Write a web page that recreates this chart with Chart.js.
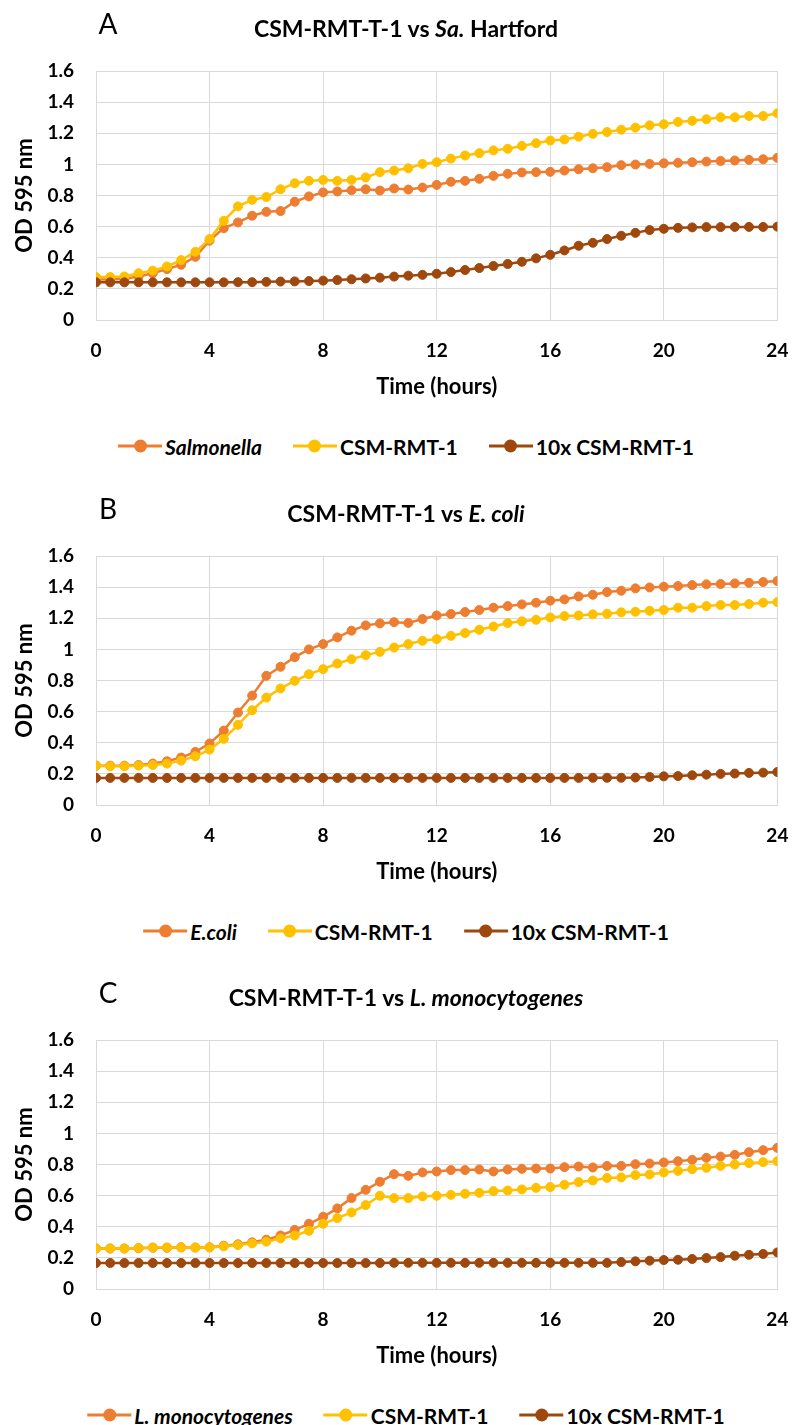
<!DOCTYPE html>
<html>
<head>
<meta charset="utf-8">
<script src="https://cdn.jsdelivr.net/npm/chart.js@4.4.1/dist/chart.umd.min.js"></script>
<style>
  html, body { margin: 0; padding: 0; background: #fff; }
  #page { position: relative; width: 808px; height: 1425px; overflow: hidden; font-family: Lato, "Open Sans", sans-serif; color: #000; }
  .panel { position: absolute; left: 0; width: 808px; height: 480px; }
  .panel canvas { position: absolute; left: 0; top: 0; }
  .letter { position: absolute; left: 108px; top: 23px; transform: translate(-50%, -50%); font-size: 28px; line-height: 1; }
  .title { position: absolute; left: 406px; top: 28px; transform: translate(-50%, -50%); font-size: 23px; font-weight: bold; line-height: 1; white-space: nowrap; }
  .legend { position: absolute; left: 406px; top: 446px; transform: translate(-50%, -50%); display: flex; align-items: center; gap: 31px; white-space: nowrap; font-size: 21px; font-weight: bold; line-height: 1; }
  .item { display: flex; align-items: center; gap: 3px; }
  .swatch { position: relative; width: 44px; height: 14px; }
  .swatch .ln { position: absolute; left: 0; right: 0; top: 5.5px; height: 3px; }
  .swatch .dot { position: absolute; left: 15.5px; top: 0.5px; width: 13px; height: 13px; border-radius: 50%; }
  i { font-style: italic; }
</style>
</head>
<body>
<div id="page"></div>
<script>
// sampling times (hours), one reading every 30 min
const hours = [0, 0.5, 1, 1.5, 2, 2.5, 3, 3.5, 4, 4.5, 5, 5.5, 6, 6.5, 7, 7.5, 8,
  8.5, 9, 9.5, 10, 10.5, 11, 11.5, 12, 12.5, 13, 13.5, 14, 14.5, 15, 15.5, 16,
  16.5, 17, 17.5, 18, 18.5, 19, 19.5, 20, 20.5, 21, 21.5, 22, 22.5, 23, 23.5, 24];

const xTicks = [0, 4, 8, 12, 16, 20, 24];
const yTicks = [0, 0.2, 0.4, 0.6, 0.8, 1, 1.2, 1.4, 1.6];

const seriesNames = ['CSM-RMT-1', '10x CSM-RMT-1'];

// A: Salmonella Hartford
const salmonella = [0.26, 0.26, 0.265, 0.28, 0.30, 0.327, 0.355, 0.406, 0.51,
  0.59, 0.627, 0.67, 0.695, 0.70, 0.76, 0.794, 0.82,
  0.826, 0.834, 0.84, 0.832, 0.845, 0.838, 0.851, 0.868,
  0.888, 0.894, 0.907, 0.926, 0.939, 0.948, 0.95, 0.952,
  0.96, 0.969, 0.975, 0.982, 0.995, 0.999, 1.003, 1.007,
  1.01, 1.014, 1.018, 1.022, 1.025, 1.029, 1.033, 1.042];
const salCsm = [0.276, 0.276, 0.28, 0.30, 0.317, 0.344, 0.385, 0.438, 0.52,
  0.637, 0.73, 0.772, 0.79, 0.84, 0.879, 0.894, 0.90,
  0.894, 0.90, 0.916, 0.95, 0.96, 0.975, 1.003, 1.014,
  1.037, 1.057, 1.072, 1.09, 1.10, 1.119, 1.136, 1.153,
  1.16, 1.178, 1.196, 1.208, 1.223, 1.236, 1.251, 1.258,
  1.273, 1.28, 1.29, 1.303, 1.303, 1.311, 1.311, 1.328];
const salCsm10 = [0.242, 0.242, 0.242, 0.242, 0.242, 0.242, 0.242, 0.242, 0.242,
  0.242, 0.243, 0.243, 0.245, 0.247, 0.248, 0.25, 0.253,
  0.257, 0.262, 0.267, 0.272, 0.279, 0.285, 0.29, 0.297,
  0.308, 0.321, 0.334, 0.347, 0.36, 0.374, 0.396, 0.419,
  0.447, 0.477, 0.496, 0.52, 0.541, 0.56, 0.578, 0.586,
  0.592, 0.595, 0.597, 0.597, 0.598, 0.598, 0.598, 0.60];

// B: E. coli
const ecoli = [0.253, 0.253, 0.253, 0.257, 0.266, 0.281, 0.305, 0.341, 0.395,
  0.478, 0.594, 0.703, 0.83, 0.888, 0.95, 1.0, 1.034,
  1.077, 1.12, 1.154, 1.167, 1.175, 1.17, 1.195, 1.218,
  1.227, 1.24, 1.253, 1.268, 1.278, 1.289, 1.30, 1.313,
  1.321, 1.34, 1.351, 1.368, 1.377, 1.392, 1.398, 1.403,
  1.407, 1.413, 1.418, 1.42, 1.424, 1.428, 1.433, 1.439];
const ecoCsm = [0.253, 0.249, 0.249, 0.253, 0.257, 0.266, 0.285, 0.313, 0.356,
  0.425, 0.515, 0.609, 0.69, 0.749, 0.798, 0.84, 0.873,
  0.909, 0.937, 0.963, 0.984, 1.012, 1.034, 1.055, 1.066,
  1.087, 1.105, 1.126, 1.147, 1.169, 1.18, 1.19, 1.205,
  1.214, 1.218, 1.225, 1.229, 1.238, 1.242, 1.248, 1.253,
  1.268, 1.268, 1.278, 1.285, 1.285, 1.291, 1.30, 1.304];
const ecoCsm10 = [0.174, 0.174, 0.174, 0.174, 0.174, 0.174, 0.174, 0.174, 0.174,
  0.174, 0.174, 0.174, 0.174, 0.174, 0.174, 0.174, 0.174,
  0.174, 0.174, 0.174, 0.174, 0.174, 0.174, 0.174, 0.174,
  0.174, 0.174, 0.174, 0.174, 0.174, 0.174, 0.174, 0.174,
  0.174, 0.174, 0.175, 0.175, 0.175, 0.176, 0.18, 0.184,
  0.186, 0.191, 0.195, 0.20, 0.202, 0.206, 0.208, 0.212];

// C: L. monocytogenes
const listeria = [0.26, 0.26, 0.26, 0.262, 0.265, 0.265, 0.268, 0.266, 0.268,
  0.278, 0.287, 0.30, 0.317, 0.344, 0.38, 0.419, 0.464,
  0.518, 0.584, 0.637, 0.689, 0.738, 0.727, 0.749, 0.755,
  0.764, 0.764, 0.768, 0.755, 0.768, 0.772, 0.774, 0.774,
  0.783, 0.787, 0.781, 0.791, 0.791, 0.802, 0.806, 0.813,
  0.821, 0.83, 0.843, 0.851, 0.862, 0.879, 0.892, 0.907];
const lisCsm = [0.261, 0.261, 0.261, 0.264, 0.267, 0.267, 0.267, 0.267, 0.267,
  0.274, 0.282, 0.293, 0.304, 0.325, 0.344, 0.374, 0.419,
  0.456, 0.492, 0.539, 0.599, 0.584, 0.584, 0.595, 0.599,
  0.605, 0.612, 0.618, 0.629, 0.633, 0.64, 0.65, 0.655,
  0.67, 0.687, 0.697, 0.714, 0.717, 0.732, 0.736, 0.749,
  0.759, 0.77, 0.779, 0.791, 0.80, 0.809, 0.815, 0.821];
const lisCsm10 = [0.167, 0.167, 0.167, 0.167, 0.167, 0.167, 0.167, 0.167, 0.167,
  0.167, 0.167, 0.167, 0.167, 0.167, 0.167, 0.167, 0.167,
  0.167, 0.167, 0.167, 0.167, 0.168, 0.168, 0.168, 0.168,
  0.168, 0.168, 0.168, 0.168, 0.168, 0.168, 0.168, 0.168,
  0.168, 0.168, 0.168, 0.168, 0.173, 0.178, 0.182, 0.186,
  0.188, 0.193, 0.199, 0.205, 0.214, 0.22, 0.225, 0.235];

const colors = ['#ED7D31', '#FFC000', '#9E480E'];
const gridColor = '#d9d9d9';
const font = 'Lato';

const panels = [
  { top: 0,   letter: 'A', title: 'CSM-RMT-T-1 vs <i>Sa.</i> Hartford', organism: '<i>Salmonella</i>', series: [salmonella, salCsm, salCsm10] },
  { top: 485, letter: 'B', title: 'CSM-RMT-T-1 vs <i>E. coli</i>', organism: '<i>E.coli</i>', series: [ecoli, ecoCsm, ecoCsm10] },
  { top: 969, letter: 'C', title: 'CSM-RMT-T-1 vs <i>L. monocytogenes</i>', organism: '<i>L. monocytogenes</i>', series: [listeria, lisCsm, lisCsm10] },
];

const page = document.getElementById('page');

function legendItem(color, label) {
  return '<span class="item"><span class="swatch"><span class="ln" style="background:' + color + '"></span>' +
    '<span class="dot" style="background:' + color + '"></span></span><span>' + label + '</span></span>';
}

function buildPanel(p) {
  const div = document.createElement('div');
  div.className = 'panel';
  div.style.top = p.top + 'px';
  const labels = [p.organism].concat(seriesNames);
  div.innerHTML =
    '<canvas width="808" height="410"></canvas>' +
    '<div class="letter">' + p.letter + '</div>' +
    '<div class="title">' + p.title + '</div>' +
    '<div class="legend">' + labels.map((l, i) => legendItem(colors[i], l)).join('') + '</div>';
  page.appendChild(div);

  const datasets = p.series.map((vals, i) => ({
    label: labels[i].replace(/<[^>]+>/g, ''),
    data: vals.map((v, k) => ({ x: hours[k], y: v })),
    borderColor: colors[i],
    backgroundColor: colors[i],
    pointBackgroundColor: colors[i],
    pointBorderColor: colors[i],
    borderWidth: 2.5,
    pointRadius: 4.5,
    pointBorderWidth: 1,
    tension: 0,
    order: 2 - i, // later series sit on top
  }));

  new Chart(div.querySelector('canvas'), {
    type: 'line',
    data: { datasets },
    options: {
      responsive: false,
      animation: false,
      devicePixelRatio: 1,
      layout: { padding: { top: 71, right: 14, bottom: 0, left: 0 } },
      plugins: { legend: { display: false }, tooltip: { enabled: false } },
      scales: {
        x: {
          type: 'linear',
          min: 0, max: 24,
          afterFit: (s) => { s.height = 90; },
          afterBuildTicks: (s) => { s.ticks = xTicks.map(v => ({ value: v })); },
          grid: { color: gridColor, drawTicks: false },
          border: { color: gridColor },
          ticks: { padding: 19.6, maxRotation: 0, color: '#000', font: { family: font, size: 19, weight: 'bold' } },
          title: { display: true, text: 'Time (hours)', color: '#000', padding: { top: 0, bottom: 9.8 },
                   font: { family: font, size: 22, weight: 'bold' } },
        },
        y: {
          min: 0, max: 1.6,
          afterFit: (s) => { s.width = 96; },
          afterBuildTicks: (s) => { s.ticks = yTicks.map(v => ({ value: v })); },
          grid: { color: gridColor, drawTicks: false },
          border: { color: gridColor },
          ticks: { padding: 22, color: '#000', font: { family: font, size: 19, weight: 'bold' },
                   callback: (v) => String(v) },
          title: { display: true, text: 'OD 595 nm', color: '#000', padding: { top: 11.8, bottom: 0 },
                   font: { family: font, size: 22, weight: 'bold' } },
        },
      },
    },
  });
}

panels.forEach(buildPanel);
</script>
</body>
</html>
